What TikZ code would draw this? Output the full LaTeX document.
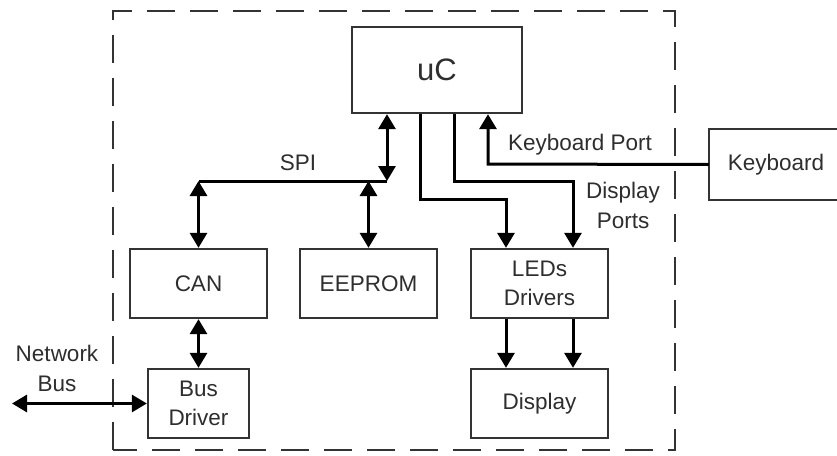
\documentclass[tikz,border=0pt]{standalone}
\usepackage{fontspec}
\setmainfont{Liberation Sans}
\usetikzlibrary{arrows.meta,calc}
\definecolor{boxcol}{HTML}{333333}
\definecolor{txtcol}{HTML}{2E2E2E}
\begin{document}
\begin{tikzpicture}[x=1pt,y=-1pt,
  blk/.style={draw=boxcol,line width=2.3pt,text=txtcol,align=center,inner sep=0pt,
    font=\fontsize{22.5}{29}\selectfont},
  lbl/.style={text=txtcol,align=center,inner sep=0pt,font=\fontsize{22.5}{30}\selectfont},
  conn/.style={draw=black,line width=3pt},
  one/.style={conn,-{Triangle[length=15pt,width=17pt]}},
  two/.style={conn,{Triangle[length=15pt,width=17pt]}-{Triangle[length=15pt,width=17pt]}},
  frame/.style={draw=boxcol,line width=2.3pt,dash pattern=on 28pt off 15pt}]
\useasboundingbox (0,0) rectangle (837,455);
\fill[white] (0,0) rectangle (837,455);
% frame
\draw[frame] (113,450) -- (113,11) -- (675,11) -- (675,450) -- cycle;
% blocks
\node[blk,minimum width=170pt,minimum height=86pt,font=\fontsize{31}{36}\selectfont] (uc) at (437,70) {uC};
\node[blk,draw=none,minimum width=132pt,minimum height=69pt] (kb) at (776,164.5) {Keyboard};
\draw[boxcol,line width=2.3pt] (kb.north east) -- (kb.north west) -- (kb.south west) -- (kb.south east);
\node[blk,minimum width=137pt,minimum height=69pt] (can) at (198.5,283.5) {CAN};
\node[blk,minimum width=137pt,minimum height=69pt] (eep) at (368.5,283.5) {EEPROM};
\node[blk,minimum width=137pt,minimum height=69pt] (led) at (539.5,283.5) {LEDs\\Drivers};
\node[blk,minimum width=137pt,minimum height=69pt] (disp) at (539.5,403.5) {Display};
\node[blk,minimum width=101pt,minimum height=69pt] (bd) at (198.5,403.5) {Bus\\Driver};
% coordinates
\coordinate (spi) at (387,181);
\coordinate (kp) at (488,164);
\coordinate (d1) at (420,199);
\coordinate (d2) at (454,181);
\coordinate (l1) at ($(led.north)+(-33.5,0)$);
\coordinate (l2) at ($(led.north)+(33.5,0)$);
\coordinate (nb) at (12,403.5);
% SPI bus
\draw[two] (uc.south -| spi) -- (spi);
\draw[conn] (spi) -- (spi -| can.north);
\draw[two] (spi -| can.north) -- (can.north);
\draw[two] (spi -| eep.north) -- (eep.north);
% keyboard
\draw[one] (kb.west) -- (kp) -- (uc.south -| kp);
% display ports
\draw[one] (uc.south -| d1) -- (d1) -| (l1);
\draw[one] (uc.south -| d2) -- (d2) -| (l2);
% LEDs -> display
\draw[one] ($(led.south)+(-33.5,0)$) -- ($(disp.north)+(-33.5,0)$);
\draw[one] ($(led.south)+(33.5,0)$) -- ($(disp.north)+(33.5,0)$);
% CAN <-> bus driver
\draw[two] (can.south) -- (bd.north);
\draw[two] (nb) -- (bd.west);
% labels
\node[lbl] (spil) at (298,163) {SPI};
\node[lbl] (kpl) at (580,145) {Keyboard Port};
\node[lbl] (dpl) at (623,205) {Display\\Ports};
\node[lbl] (nbl) at (57,368) {Network\\Bus};
\end{tikzpicture}
\end{document}
